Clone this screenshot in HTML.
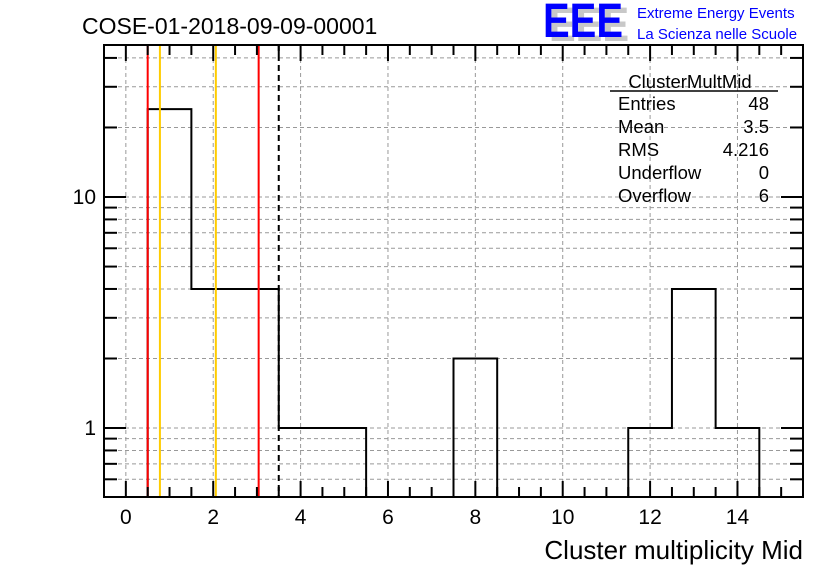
<!DOCTYPE html>
<html><head><meta charset="utf-8"><style>
body{margin:0;background:#fff}
svg text{font-family:"Liberation Sans",Arial,sans-serif}
</style></head><body>
<svg id="c" width="836" height="572" xmlns="http://www.w3.org/2000/svg">
<rect width="836" height="572" fill="#fff"/>
<g id="grid"></g>
<g id="hist"></g>
<g id="marks"></g>
<g id="axes"></g>
<text x="82" y="34" font-size="23">COSE-01-2018-09-09-00001</text>
<g>
<text x="549" y="41" font-size="48" font-weight="bold" fill="#c8c8c8" textLength="80" lengthAdjust="spacingAndGlyphs">EEE</text>
<text x="543" y="37" font-size="48" font-weight="bold" fill="#0000ff" textLength="80" lengthAdjust="spacingAndGlyphs">EEE</text>
<text x="637" y="18" font-size="15" fill="#0000ff">Extreme Energy Events</text>
<text x="637" y="39" font-size="15" fill="#0000ff">La Scienza nelle Scuole</text>
</g>
<g font-size="18.5">
<text x="690" y="88" text-anchor="middle">ClusterMultMid</text>
<line x1="610" y1="91" x2="778" y2="91" stroke="#000" stroke-width="1.5"/>
<text x="618" y="110">Entries</text><text x="769" y="110" text-anchor="end">48</text>
<text x="618" y="133">Mean</text><text x="769" y="133" text-anchor="end">3.5</text>
<text x="618" y="156">RMS</text><text x="769" y="156" text-anchor="end">4.216</text>
<text x="618" y="179">Underflow</text><text x="769" y="179" text-anchor="end">0</text>
<text x="618" y="202">Overflow</text><text x="769" y="202" text-anchor="end">6</text>
</g>
<text x="803" y="559" font-size="26" text-anchor="end">Cluster multiplicity Mid</text>
</svg>
<script>
const binCenters=[1,2,3,4,5,8,12,13,14];
const binCounts=[24,4,4,1,1,2,1,4,1];
const xTickLabels=[0,2,4,6,8,10,12,14];
const yTickLabels=[1,10];
const redLines=[0.5,3.04];
const orangeLines=[0.78,2.06];
const dashedLines=[3.5];
const NS="http://www.w3.org/2000/svg";
const L=104,R=803,T=45,B=497,XMIN=-0.5,XMAX=15.5,YMIN=0.503,YMAX=45.5;
const sx=v=>L+(v-XMIN)/(XMAX-XMIN)*(R-L);
const sy=v=>B-(Math.log10(v)-Math.log10(YMIN))/(Math.log10(YMAX)-Math.log10(YMIN))*(B-T);
function mk(p,tag,a){const e=document.createElementNS(NS,tag);for(const k in a)e.setAttribute(k,a[k]);p.appendChild(e);return e;}
const grid=document.getElementById('grid'),axes=document.getElementById('axes'),hist=document.getElementById('hist'),marks=document.getElementById('marks');
xTickLabels.forEach(v=>{const l=mk(grid,'line',{x1:sx(v),x2:sx(v),y1:T,y2:B,stroke:'#999','stroke-dasharray':'4,3','stroke-width':1});

});
const yTicks=[];
for(let d=-1;d<=1;d++)for(let m=1;m<=9;m++){const v=m*Math.pow(10,d);if(v>=YMIN&&v<=YMAX)yTicks.push(v);}
yTicks.forEach(v=>{const l=mk(grid,'line',{x1:L,x2:R,y1:sy(v),y2:sy(v),stroke:'#999','stroke-dasharray':'4,3','stroke-width':1});


const major=yTickLabels.includes(v);const len=major?22:13;
mk(axes,'line',{x1:L,x2:L+len,y1:sy(v),y2:sy(v),stroke:'#000','stroke-width':2});
mk(axes,'line',{x1:R,x2:R-len,y1:sy(v),y2:sy(v),stroke:'#000','stroke-width':2});});
yTickLabels.forEach(v=>{const t=mk(axes,'text',{x:L-8,y:sy(v)+7,'font-size':21,'text-anchor':'end'});t.textContent=v;

});
for(let v=0;v<=15;v+=0.5){const major=xTickLabels.includes(v);const len=major?16:10;
mk(axes,'line',{x1:sx(v),x2:sx(v),y1:B,y2:B-len,stroke:'#000','stroke-width':2});
mk(axes,'line',{x1:sx(v),x2:sx(v),y1:T,y2:T+len,stroke:'#000','stroke-width':2});}
xTickLabels.forEach(v=>{const t=mk(axes,'text',{x:sx(v),y:B+27,'font-size':21,'text-anchor':'middle'});t.textContent=v;

});
let pts=[];let prev=null;
binCenters.forEach((c,i)=>{const x0=sx(c-0.5),x1=sx(c+0.5),y=sy(binCounts[i]);
if(prev===null||Math.abs(prev.x-x0)>0.5){if(prev)pts.push(`${prev.x},${B}`);pts.push(`M${x0},${B}`);}
pts.push(`${x0},${y}`,`${x1},${y}`);prev={x:x1};});
pts.push(`${prev.x},${B}`);
let d='';pts.forEach(p=>{d+=p.startsWith('M')?p+' ':'L'+p+' ';});
const h=mk(hist,'path',{d:d,fill:'none',stroke:'#000','stroke-width':2});


redLines.forEach(v=>{const l=mk(marks,'line',{x1:sx(v),x2:sx(v),y1:T,y2:B,stroke:'#ff0000','stroke-width':2});

});
orangeLines.forEach(v=>{const l=mk(marks,'line',{x1:sx(v),x2:sx(v),y1:T,y2:B,stroke:'#ffcc00','stroke-width':2});

});
dashedLines.forEach(v=>{const l=mk(marks,'line',{x1:sx(v),x2:sx(v),y1:T,y2:B,stroke:'#000','stroke-width':2,'stroke-dasharray':'6,4'});

});
const fr=mk(axes,'rect',{x:L,y:T,width:R-L,height:B-T,fill:'none',stroke:'#000','stroke-width':2});


</script>
</body></html>
